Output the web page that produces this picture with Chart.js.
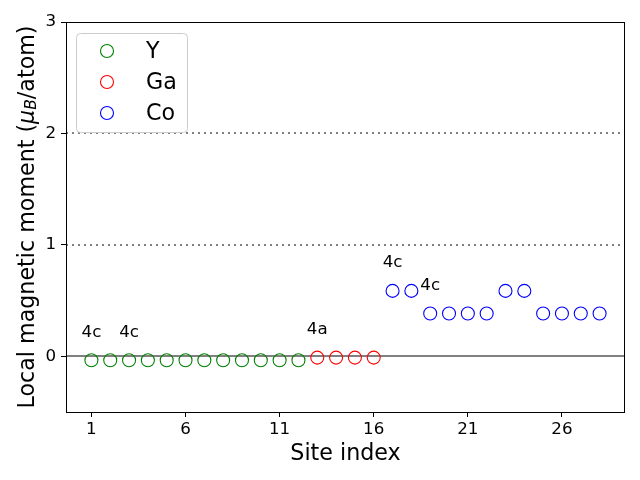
<!DOCTYPE html>
<html>
<head>
<meta charset="utf-8">
<script src="https://cdn.jsdelivr.net/npm/chart.js@4/dist/chart.umd.min.js"></script>
<style>
  html, body { margin: 0; padding: 0; background: #fff; }
  #wrap { width: 640px; height: 480px; }
</style>
</head>
<body>
<div id="wrap"><canvas id="momentChart" width="640" height="480"></canvas></div>
<script>
// Site indices per element
const ySites = [1, 2, 3, 4, 5, 6, 7, 8, 9, 10, 11, 12];
const gaSites = [13, 14, 15, 16];
const coSites = [17, 18, 19, 20, 21, 22, 23, 24, 25, 26, 27, 28];

// Local magnetic moments (mu_B/atom)
const yMoments = [-0.035, -0.035, -0.035, -0.035, -0.035, -0.035, -0.035, -0.035, -0.035, -0.035, -0.035, -0.035];
const gaMoments = [-0.012, -0.012, -0.012, -0.012];
const coMoments = [0.587, 0.587, 0.384, 0.384, 0.384, 0.384, 0.587, 0.587, 0.384, 0.384, 0.384, 0.384];

// Wyckoff labels
const noteText = ['4c', '4c', '4a', '4c', '4c'];
const noteX = [1, 3, 13, 17, 19];
const noteY = [0.215, 0.215, 0.238, 0.837, 0.634];

const xTicks = [1, 6, 11, 16, 21, 26];
const yTicks = [0, 1, 2, 3];
const dottedLines = [1, 2];
const zeroLine = 0;

const FONT = "'DejaVu Sans', sans-serif";

function toPoints(xs, ys) {
    return xs.map((x, i) => ({ x: x, y: ys[i] }));
}

function makeSet(label, xs, ys, color) {
    return {
        label: label,
        data: toPoints(xs, ys),
        borderColor: color,
        backgroundColor: 'rgba(0,0,0,0)',
        pointStyle: 'circle',
        pointRadius: 6.5,
        pointHoverRadius: 6.5,
        borderWidth: 1.1,
        showLine: false
    };
}

// Reference lines, frame, notes, y title and legend
const extras = {
    id: 'extras',
    beforeDatasetsDraw(chart) {
        const { ctx, chartArea: a, scales } = chart;
        const ys = scales.y;
        ctx.save();
        ctx.lineWidth = 2;
        ctx.strokeStyle = '#808080';
        ctx.setLineDash([2, 4]);
        dottedLines.forEach(v => {
            const py = Math.round(ys.getPixelForValue(v));
            ctx.beginPath();
            ctx.moveTo(a.left, py);
            ctx.lineTo(a.right, py);
            ctx.stroke();
        });
        ctx.setLineDash([]);
        const pz = Math.round(ys.getPixelForValue(zeroLine));
        ctx.beginPath();
        ctx.moveTo(a.left, pz);
        ctx.lineTo(a.right, pz);
        ctx.stroke();
        ctx.restore();
    },
    afterDraw(chart) {
        const { ctx, chartArea: a, scales } = chart;
        ctx.save();
        // frame
        ctx.strokeStyle = '#000';
        ctx.lineWidth = 1;
        ctx.strokeRect(Math.round(a.left) + 0.5, Math.round(a.top) + 0.5,
            Math.round(a.right - a.left) - 1, Math.round(a.bottom - a.top));

        // notes
        ctx.fillStyle = '#000';
        ctx.font = '16.7px ' + FONT;
        ctx.textAlign = 'center';
        ctx.textBaseline = 'middle';
        noteText.forEach((t, i) => {
            ctx.fillText(t, scales.x.getPixelForValue(noteX[i]), scales.y.getPixelForValue(noteY[i]));
        });

        // y axis title with subscript
        ctx.translate(28, (a.top + a.bottom) / 2);
        ctx.rotate(-Math.PI / 2);
        const parts = [
            { t: 'Local magnetic moment (', f: '22.2px ' + FONT, dy: 0 },
            { t: '\u03BC', f: 'italic 22.2px ' + FONT, dy: 0 },
            { t: 'B', f: 'italic 15.5px ' + FONT, dy: 4 },
            { t: '/atom)', f: '22.2px ' + FONT, dy: 0 }
        ];
        let total = 0;
        parts.forEach(p => { ctx.font = p.f; p.w = ctx.measureText(p.t).width; total += p.w; });
        let cx = -total / 2;
        ctx.textAlign = 'left';
        parts.forEach(p => {
            ctx.font = p.f;
            ctx.fillText(p.t, cx, p.dy);
            cx += p.w;
        });
        ctx.restore();

        // legend box
        ctx.save();
        const lx = a.left + 10, ly = a.top + 11, lw = 111, lh = 99;
        ctx.fillStyle = 'rgba(255,255,255,0.8)';
        ctx.strokeStyle = '#cccccc';
        ctx.lineWidth = 1;
        ctx.beginPath();
        ctx.roundRect(lx + 0.5, ly + 0.5, lw, lh, 4);
        ctx.fill();
        ctx.stroke();
        ctx.font = '22.2px ' + FONT;
        ctx.textAlign = 'left';
        ctx.textBaseline = 'middle';
        chart.data.datasets.forEach((ds, i) => {
            const my = ly + 18 + i * 31;
            ctx.strokeStyle = ds.borderColor;
            ctx.lineWidth = 1.1;
            ctx.beginPath();
            ctx.arc(lx + 31, my, 6.5, 0, Math.PI * 2);
            ctx.stroke();
            ctx.fillStyle = '#000';
            ctx.fillText(ds.label, lx + 70, my + 1);
        });
        ctx.restore();
    }
};

new Chart(document.getElementById('momentChart'), {
    type: 'scatter',
    data: {
        datasets: [
            makeSet('Y', ySites, yMoments, '#008000'),
            makeSet('Ga', gaSites, gaMoments, '#ff0000'),
            makeSet('Co', coSites, coMoments, '#0000ff')
        ]
    },
    options: {
        responsive: false,
        animation: false,
        events: [],
        layout: { padding: { left: 0, right: 15, top: 22, bottom: 0 } },
        plugins: {
            legend: { display: false },
            tooltip: { enabled: false }
        },
        scales: {
            x: {
                type: 'linear',
                min: -0.35,
                max: 29.35,
                afterBuildTicks: s => { s.ticks = xTicks.map(v => ({ value: v })); },
                afterFit: s => { s.height = 68; },
                grid: { drawOnChartArea: false, drawTicks: true, tickLength: 5, color: '#000' },
                border: { display: false },
                ticks: { color: '#000', font: { family: FONT, size: 16.7 }, padding: 3, maxRotation: 0 },
                title: {
                    display: true,
                    text: 'Site index',
                    color: '#000',
                    font: { family: FONT, size: 22.2 },
                    padding: { top: 0, bottom: 12 }
                }
            },
            y: {
                type: 'linear',
                min: -0.5,
                max: 3,
                afterBuildTicks: s => { s.ticks = yTicks.map(v => ({ value: v })); },
                afterFit: s => { s.width = 66; },
                grid: { drawOnChartArea: false, drawTicks: true, tickLength: 5, color: '#000' },
                border: { display: false },
                ticks: { color: '#000', font: { family: FONT, size: 16.7 }, padding: 5 }
            }
        }
    },
    plugins: [extras]
});
</script>
</body>
</html>
